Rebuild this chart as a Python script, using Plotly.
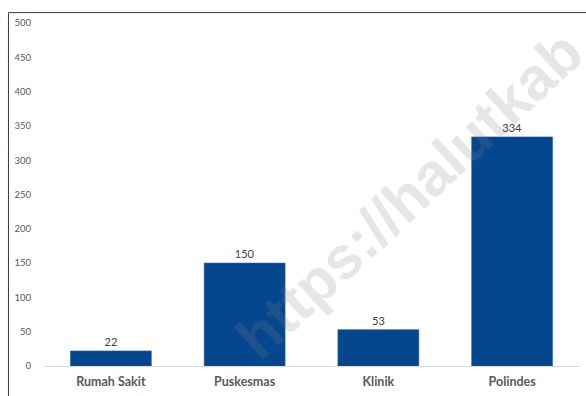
import plotly.graph_objects as go

# Number of health facilities by type
categories = ["Rumah Sakit", "Puskesmas", "Klinik", "Polindes"]
values = [22, 150, 53, 334]
y_ticks = [0, 50, 100, 150, 200, 250, 300, 350, 400, 450, 500]

FONT = "Lato, 'Open Sans', sans-serif"
BAR_COLOR = "#04478f"

fig = go.Figure(
    go.Bar(
        x=categories,
        y=values,
        text=[str(v) for v in values],
        textposition="outside",
        textfont=dict(family=FONT, size=11, color="#404040"),
        marker=dict(color=BAR_COLOR, line=dict(color="#2a609f", width=0.6)),
        cliponaxis=False,
        hoverinfo="skip",
    )
)

fig.update_layout(
    width=586,
    height=396,
    margin=dict(l=44, r=7, t=23, b=26),
    paper_bgcolor="white",
    plot_bgcolor="white",
    bargap=0.395,
    showlegend=False,
    font=dict(family=FONT, color="#595959"),
    xaxis=dict(
        showgrid=False,
        showline=True,
        linecolor="#d9d9d9",
        linewidth=1,
        ticks="outside",
        ticklen=4,
        tickcolor="rgba(0,0,0,0)",
        tickfont=dict(family=FONT, size=12.5, color="#595959", weight="bold"),
        fixedrange=True,
    ),
    yaxis=dict(
        range=[0, 500],
        tickvals=y_ticks,
        showgrid=False,
        zeroline=False,
        showline=False,
        ticks="outside",
        ticklen=10,
        tickcolor="rgba(0,0,0,0)",
        tickfont=dict(family=FONT, size=9.5, color="#595959"),
        fixedrange=True,
    ),
)

# chart frame (open to the right and bottom edges of the page)
fig.add_shape(
    type="path",
    xref="paper", yref="paper",
    path="M -0.0664,-0.3 L -0.0664,1.0303 L 1.2,1.0303",
    line=dict(color="#3a3a3a", width=1),
)

# diagonal watermark
fig.add_annotation(
    text="https://halutkab",
    xref="paper", yref="paper",
    x=0.684, y=0.50,
    xanchor="center", yanchor="middle",
    textangle=-43,
    showarrow=False,
    font=dict(family="'Liberation Sans', Arial, sans-serif", size=60,
              color="rgba(128,128,128,0.2)", weight="bold"),
)

fig.write_html("out.html")
